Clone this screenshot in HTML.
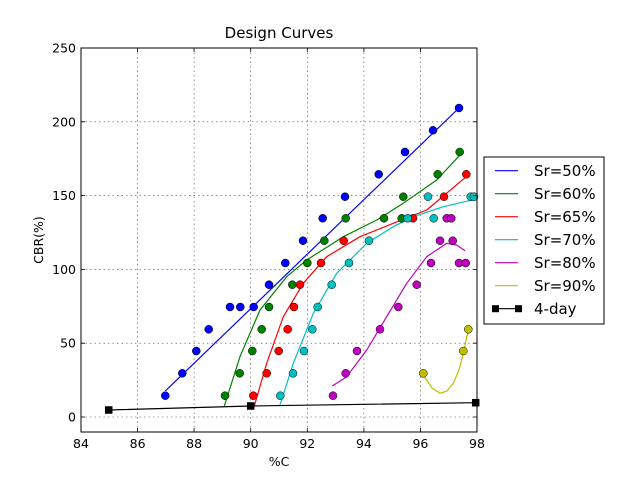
<!DOCTYPE html>
<html><head><meta charset="utf-8"><style>body{margin:0;background:#fff}svg{display:block}text{font-family:"DejaVu Sans","Liberation Sans",sans-serif}</style></head><body>
<svg width="640" height="481" viewBox="0 0 640 481" xmlns="http://www.w3.org/2000/svg">
<rect width="640" height="481" fill="#fff"/>
<g stroke="#000" stroke-width="0.6" stroke-dasharray="1.5,3" opacity="0.7">
<line x1="137.6" y1="48" x2="137.6" y2="432"/><line x1="194.1" y1="48" x2="194.1" y2="432"/><line x1="250.7" y1="48" x2="250.7" y2="432"/><line x1="307.3" y1="48" x2="307.3" y2="432"/><line x1="363.9" y1="48" x2="363.9" y2="432"/><line x1="420.4" y1="48" x2="420.4" y2="432"/>
<line x1="81" y1="417" x2="477" y2="417"/><line x1="81" y1="343.2" x2="477" y2="343.2"/><line x1="81" y1="269.4" x2="477" y2="269.4"/><line x1="81" y1="195.6" x2="477" y2="195.6"/><line x1="81" y1="121.8" x2="477" y2="121.8"/>
</g>
<g fill="none" stroke-width="1.2" stroke-linejoin="round">
<polyline stroke="#0000ff" points="165.3,391 459,108"/>
<polyline stroke="#008000" points="224.3,406 240,356.7 260,310 286.7,276.7 306.7,260 343.3,236.7 376.7,220 403.3,203.3 436.7,180 459.7,155.3"/>
<polyline stroke="#ff0000" points="254.3,406 266.7,363.3 283.3,316.7 303.3,283.3 326.7,256.7 360,236.7 393.3,223.3 426.7,210 466.3,176.7"/>
<polyline stroke="#00bfbf" points="280,405 293.3,363.3 313.3,313.3 336.7,273.3 366.7,243.3 393.3,226.7 413.3,216.7 443.3,206.7 475,199.3"/>
<polyline stroke="#bf00bf" points="332.3,386 346.7,376.7 366.7,350 386.7,316.7 406.7,283.3 426.7,256.7 446.7,243.3 456.7,245 465,250.7"/>
<polyline stroke="#bfbf00" points="423.3,375 432,388 440,393.3 447,391 453.3,383.3 459,370 463.3,353.3 468.3,330"/>
<polyline stroke="#000" points="108.7,410 250.7,406 475.7,402.7"/>
</g>
<g stroke="#000" stroke-width="0.5">
<g fill="#0000ff"><circle cx="165.3" cy="395.7" r="4"/><circle cx="182.3" cy="373.3" r="4"/><circle cx="196.3" cy="351" r="4"/><circle cx="208.7" cy="329.3" r="4"/><circle cx="230" cy="307" r="4"/><circle cx="240.3" cy="307" r="4"/><circle cx="253.7" cy="307" r="4"/><circle cx="269" cy="284.7" r="4"/><circle cx="285.3" cy="263" r="4"/><circle cx="303" cy="240.7" r="4"/><circle cx="322.7" cy="218.3" r="4"/><circle cx="345" cy="196.7" r="4"/><circle cx="378.7" cy="174.3" r="4"/><circle cx="405" cy="152" r="4"/><circle cx="433" cy="130.3" r="4"/><circle cx="459" cy="108" r="4"/></g>
<g fill="#008000"><circle cx="225" cy="395.7" r="4"/><circle cx="239.7" cy="373.3" r="4"/><circle cx="252.3" cy="351" r="4"/><circle cx="261.7" cy="329.3" r="4"/><circle cx="269" cy="307" r="4"/><circle cx="292.3" cy="284.7" r="4"/><circle cx="307.3" cy="263" r="4"/><circle cx="324.3" cy="240.7" r="4"/><circle cx="345.7" cy="218.3" r="4"/><circle cx="384" cy="218.3" r="4"/><circle cx="403.3" cy="196.7" r="4"/><circle cx="401.7" cy="218.3" r="4"/><circle cx="437.7" cy="174.3" r="4"/><circle cx="459.7" cy="152" r="4"/></g>
<g fill="#ff0000"><circle cx="253.3" cy="395.7" r="4"/><circle cx="266.7" cy="373.3" r="4"/><circle cx="278.7" cy="351" r="4"/><circle cx="287.7" cy="329.3" r="4"/><circle cx="294" cy="307" r="4"/><circle cx="300" cy="284.7" r="4"/><circle cx="321" cy="263" r="4"/><circle cx="343.7" cy="240.7" r="4"/><circle cx="413" cy="218.3" r="4"/><circle cx="444" cy="196.7" r="4"/><circle cx="466.3" cy="174.3" r="4"/></g>
<g fill="#00bfbf"><circle cx="280.3" cy="395.7" r="4"/><circle cx="293" cy="373.3" r="4"/><circle cx="304" cy="351" r="4"/><circle cx="312.3" cy="329.3" r="4"/><circle cx="317.7" cy="307" r="4"/><circle cx="331.7" cy="284.7" r="4"/><circle cx="349" cy="263" r="4"/><circle cx="369" cy="240.7" r="4"/><circle cx="407.7" cy="218.3" r="4"/><circle cx="433.7" cy="218.3" r="4"/><circle cx="428" cy="196.7" r="4"/><circle cx="470.7" cy="196.7" r="4"/><circle cx="474" cy="196.7" r="4"/></g>
<g fill="#bf00bf"><circle cx="333" cy="395.7" r="4"/><circle cx="345.7" cy="373.3" r="4"/><circle cx="357" cy="351" r="4"/><circle cx="380" cy="329.3" r="4"/><circle cx="398.3" cy="307" r="4"/><circle cx="416.7" cy="284.7" r="4"/><circle cx="431" cy="263" r="4"/><circle cx="440" cy="240.7" r="4"/><circle cx="452.7" cy="240.7" r="4"/><circle cx="446.7" cy="218.3" r="4"/><circle cx="451.3" cy="218.3" r="4"/><circle cx="459" cy="263" r="4"/><circle cx="465.7" cy="263" r="4"/></g>
<g fill="#bfbf00"><circle cx="423.3" cy="373.3" r="4"/><circle cx="463.3" cy="351" r="4"/><circle cx="468.3" cy="329.3" r="4"/></g>
<g fill="#000"><rect x="105.2" y="406.5" width="7" height="7"/><rect x="247.2" y="402.5" width="7" height="7"/><rect x="472.2" y="399.2" width="7" height="7"/></g>
</g>
<rect x="81" y="48" width="396" height="384" fill="none" stroke="#000" stroke-width="1"/>
<g stroke="#000" stroke-width="0.8">
<path d="M137.6,432v-4M194.1,432v-4M250.7,432v-4M307.3,432v-4M363.9,432v-4M420.4,432v-4M137.6,48v4M194.1,48v4M250.7,48v4M307.3,48v4M363.9,48v4M420.4,48v4"/>
<path d="M81,417h4M81,343.2h4M81,269.4h4M81,195.6h4M81,121.8h4M81,48h4M477,417h-4M477,343.2h-4M477,269.4h-4M477,195.6h-4M477,121.8h-4"/>
</g>
<g font-size="12.5" text-anchor="middle" fill="#000">
<text x="81" y="448">84</text><text x="137.6" y="448">86</text><text x="194.1" y="448">88</text><text x="250.7" y="448">90</text><text x="307.3" y="448">92</text><text x="363.9" y="448">94</text><text x="420.4" y="448">96</text><text x="477" y="448">98</text>
</g>
<g font-size="12.5" text-anchor="end" fill="#000">
<text x="76" y="421.5">0</text><text x="76" y="347.7">50</text><text x="76" y="273.9">100</text><text x="76" y="200">150</text><text x="76" y="126.3">200</text><text x="76" y="52.5">250</text>
</g>
<text x="279" y="38" font-size="15" text-anchor="middle">Design Curves</text>
<text x="279" y="466" font-size="12.5" text-anchor="middle">%C</text>
<text transform="translate(43,240) rotate(-90)" font-size="12.5" text-anchor="middle">CBR(%)</text>
<rect x="484" y="157" width="120" height="167" fill="#fff" stroke="#000" stroke-width="1"/>
<g stroke-width="1.2">
<line x1="495" y1="170.7" x2="518" y2="170.7" stroke="#0000ff"/>
<line x1="495" y1="193.7" x2="518" y2="193.7" stroke="#008000"/>
<line x1="495" y1="216.7" x2="518" y2="216.7" stroke="#ff0000"/>
<line x1="495" y1="239.7" x2="518" y2="239.7" stroke="#00bfbf"/>
<line x1="495" y1="262.7" x2="518" y2="262.7" stroke="#bf00bf"/>
<line x1="495" y1="285.7" x2="518" y2="285.7" stroke="#bfbf00"/>
<line x1="495" y1="308.7" x2="518" y2="308.7" stroke="#000"/>
</g>
<rect x="492" y="305.2" width="7" height="7" fill="#000"/><rect x="515" y="305.2" width="7" height="7" fill="#000"/>
<g font-size="15" fill="#000">
<text x="534" y="176">Sr=50%</text><text x="534" y="199">Sr=60%</text><text x="534" y="222">Sr=65%</text><text x="534" y="245">Sr=70%</text><text x="534" y="268">Sr=80%</text><text x="534" y="291">Sr=90%</text><text x="534" y="314">4-day</text>
</g>
</svg>
</body></html>
